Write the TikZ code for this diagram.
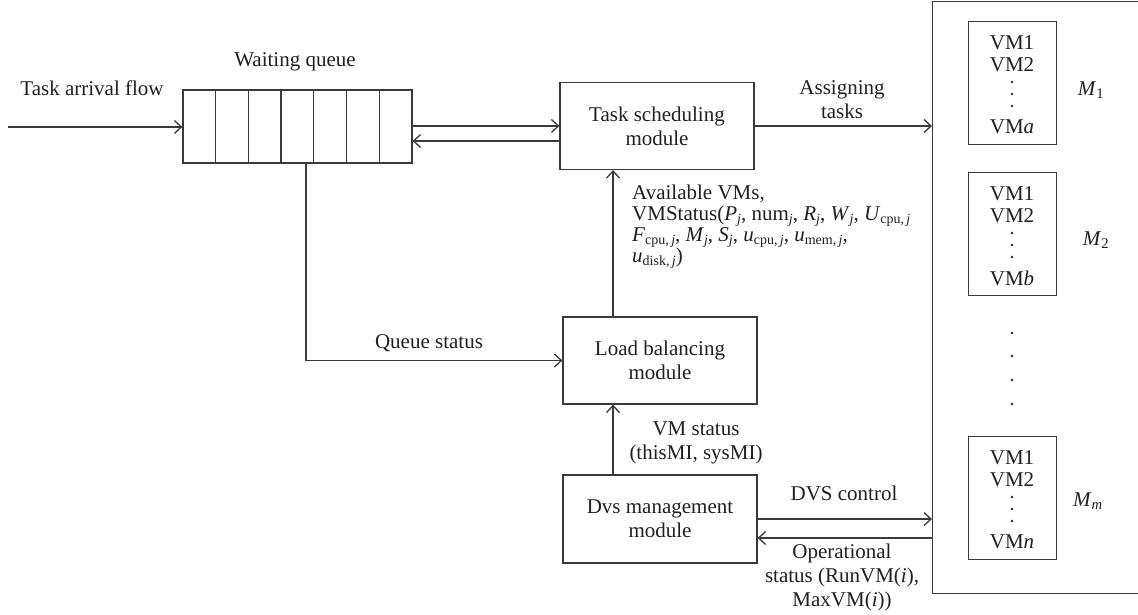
\documentclass[tikz,border=0pt]{standalone}
\usepackage{fontspec}
\setmainfont{Liberation Serif}
\usetikzlibrary{arrows.meta}
% small lowered indices: italic, or upright part followed by an italic index
\newcommand{\lowidx}[1]{\raisebox{-3pt}{\fontsize{14}{14}\selectfont #1}}
\newcommand{\vsub}[1]{\lowidx{\itshape #1}}
\newcommand{\vsubb}[2]{\lowidx{#1,\,\itshape #2}}
\definecolor{ink}{HTML}{231F20}
\definecolor{wire}{HTML}{3A3A3A}

\begin{document}
\begin{tikzpicture}[x=1pt,y=-1pt,
  every node/.style={font=\fontsize{21}{24}\selectfont, text=ink},
  line/.style={draw=wire, line width=1.3pt},
  arr/.style={line, -{Straight Barb[length=7pt,width=13pt]}},
  module/.style={line, rectangle, minimum width=194pt, minimum height=87pt,
                 align=center, inner sep=0pt},
  vmbox/.style={line, rectangle, minimum width=88pt, minimum height=123pt,
                anchor=north west, inner sep=0pt},
  lbl/.style={align=center, inner sep=0pt},
  txtline/.style={anchor=base west, inner sep=0pt},
]
\useasboundingbox (0,0) rectangle (1138,614);
\clip (0,0) rectangle (1138,614);

% ---- waiting queue ----
\node[line, minimum width=229pt, minimum height=73pt, inner sep=0pt] (queue) at (297.5,126.5) {};
\foreach \k in {1,...,6}
  \draw[line] (183+\k*32.71,90) -- (183+\k*32.71,163);
\node[lbl] (queuelbl) at (295,62) {Waiting queue};

\coordinate (src) at (8,127);
\draw[arr] (src) -- (src -| queue.west);
\node[lbl] (arrivallbl) at (92,88) {Task arrival flow};

% ---- modules ----
\node[module] (sched) at (657,126) {Task scheduling\\module};
\node[module] (balance) at (660,360.5) {Load balancing\\module};
\node[module, minimum height=88pt] (dvs) at (660,519) {Dvs management\\module};

% ---- physical machines ----
\node[line, anchor=north west, minimum width=260pt, minimum height=592pt, inner sep=0pt]
  (machines) at (932,1) {};

\node[vmbox] (vmgroup1) at (968,21) {};
\node[vmbox] (vmgroup2) at (968,172) {};
\node[vmbox] (vmgroupm) at (968,436) {};

\foreach \boxtop/\vmend/\grp in {21/a/1, 172/b/2, 436/n/m} {
  \node (vmfirst\grp) at (1012,\boxtop+22) {VM1};
  \node (vmsecond\grp) at (1012,\boxtop+44) {VM2};
  \node (vmlast\grp) at (1012,\boxtop+106) {VM\textit{\vmend}};
  \foreach \d in {61,73,85}
    \fill[ink] (1012,\boxtop+\d) circle (1.3pt);
}
\foreach \y in {333,356,380,404}
  \fill[ink] (1012,\y) circle (1.4pt);

\node (mlabel1) at (1091,90) {\textit{M}\textsubscript{1}};
\node (mlabel2) at (1096,240) {\textit{M}\textsubscript{2}};
\node (mlabelm) at (1088,501) {\textit{M}\textsubscript{\itshape m}};

% ---- connectors ----
\draw[arr] (sched.west -| queue.east) -- (sched.west);
\draw[arr] ([yshift=-15pt]sched.west) -- ([yshift=-15pt]sched.west -| queue.east);
\draw[arr] (sched.east) -- (sched.east -| machines.west);

\coordinate (upx) at (613,0);
\draw[arr] (balance.north -| upx) -- (sched.south -| upx);
\draw[arr] (dvs.north -| upx) -- (balance.south -| upx);

\coordinate (qx) at (306,0);
\draw[arr] (queue.south -| qx) |- (balance.west);

\draw[arr] (dvs.east) -- (dvs.east -| machines.west);
\draw[arr] ([yshift=-19pt]dvs.east -| machines.west) -- ([yshift=-19pt]dvs.east);

% ---- labels ----
\node[lbl] (assignlbl) at (842,100) {Assigning\\tasks};
\node[lbl] (qstatuslbl) at (429,343) {Queue status};

\node[txtline] (avail1) at (632,199) {Available VMs,};
\node[txtline] (avail2) at (632,220)
  {VMStatus(\textit{P}\vsub{j}, num\vsub{j}, \textit{R}\vsub{j}, \textit{W}\vsub{j}, \textit{U}\vsubb{cpu}{j}};
\node[txtline] (avail3) at (632,241)
  {\textit{F}\vsubb{cpu}{j}, \textit{M}\vsub{j}, \textit{S}\vsub{j}, \textit{u}\vsubb{cpu}{j}, \textit{u}\vsubb{mem}{j},};
\node[txtline] (avail4) at (632,262)
  {\textit{u}\vsubb{disk}{j})};

\node[lbl] (vmstatuslbl) at (696,442.5) {VM status\\(thisMI, sysMI)};
\node[lbl] (dvslbl) at (844,493) {DVS control};
\node[lbl] (opslbl) at (842,577) {Operational\\status (RunVM(\textit{i}),\\MaxVM(\textit{i}))};
\end{tikzpicture}
\end{document}
